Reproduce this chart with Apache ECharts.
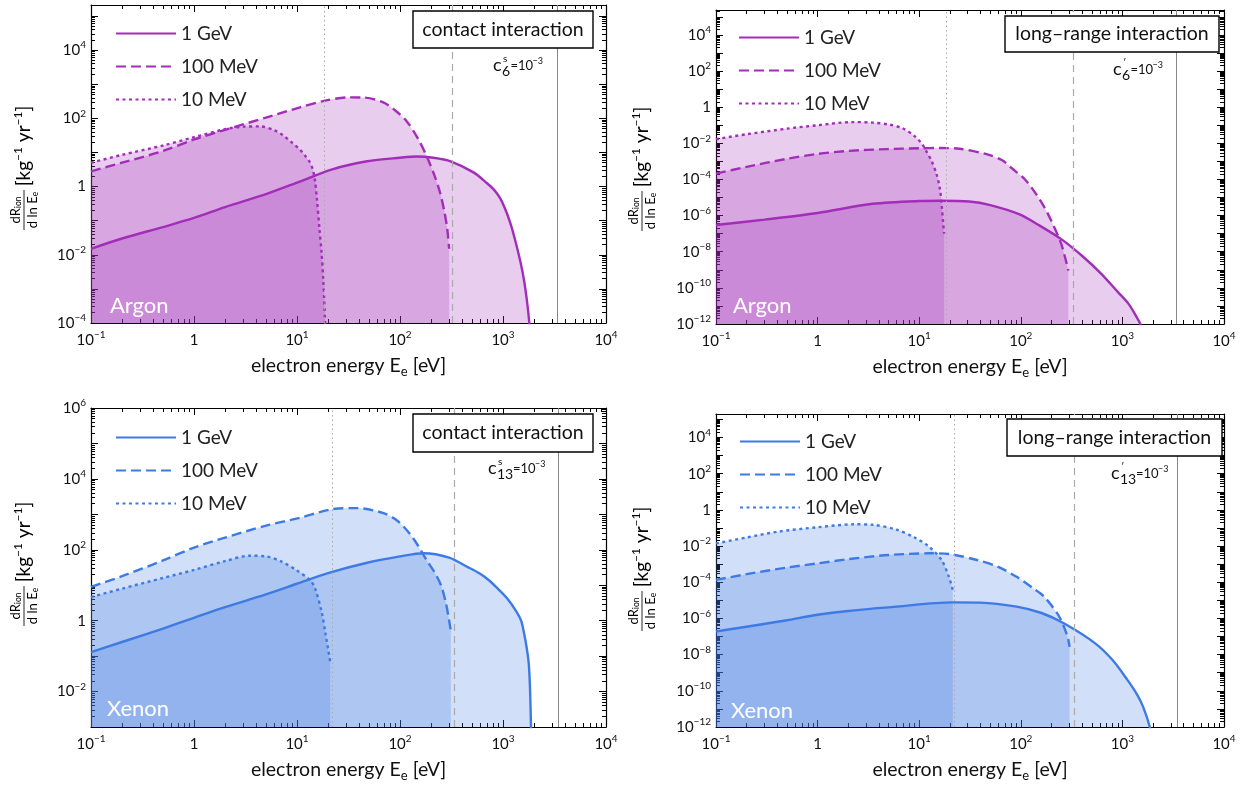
<!DOCTYPE html>
<html><head><meta charset="utf-8">
<script src="https://cdn.jsdelivr.net/npm/echarts@6/dist/echarts.min.js"></script>
<style>html,body{margin:0;padding:0;background:#fff}#c{width:1244px;height:789px}</style>
</head><body><div id="c"></div>
<script>
// ---------------- data ----------------
const xTickLabels = [0.1, 1, 10, 100, 1000, 10000];
const yTicksArgonContact = [1e-4, 1e-2, 1, 1e2, 1e4];
const yTicksLongRange = [1e-12, 1e-10, 1e-8, 1e-6, 1e-4, 1e-2, 1, 1e2, 1e4];
const yTicksXenonContact = [1e-2, 1, 1e2, 1e4, 1e6];
const massLabels = ['1 GeV', '100 MeV', '10 MeV'];
const panelTitles = ['contact interaction', 'long–range interaction', 'contact interaction', 'long–range interaction'];
const targetNames = ['Argon', 'Argon', 'Xenon', 'Xenon'];
// threshold energies [eV] for 10 MeV, 100 MeV, 1 GeV
const argonThresholds = [18.3, 325, 3400];
const xenonThresholds = [22, 335, 3450];

// Argon, contact interaction
const argonContact1GeV = [[0.1,0.015],[0.2,0.03],[0.5,0.065],[1,0.12],[2,0.25],[5,0.6],[10,1.3],[22,3.2],[48,5.5],[100,7],[146,7.6],[210,7],[310,5.5],[517,2.6],[700,1.25],[820,0.8],[940,0.45],[1050,0.22],[1170,0.09],[1300,0.03],[1480,0.006],[1600,0.0018],[1700,5e-4],[1800,1e-4],[1880,1e-5]];
const argonContact100MeV = [[0.1,2.8],[0.2,5],[0.5,11],[1,24],[2,46],[5,105],[10.7,210],[18.7,330],[32,410],[45,405],[68,300],[90,170],[117,80],[150,25],[182,7.6],[215,2.2],[245,0.66],[270,0.18],[288,0.055],[300,0.015]];
const argonContact10MeV = [[0.1,5],[0.2,8.5],[0.5,16],[1,28],[2,48],[3,57],[4.4,58],[6,45],[7.3,32],[9,19],[10.7,12],[12,8],[13.4,5],[14.3,3],[15,1.4],[15.6,0.45],[16.5,0.06],[17.3,0.012],[18,0.0018],[18.7,1.2e-4],[19,1e-5]];
// Argon, long-range interaction
const argonLong1GeV = [[0.1,3e-7],[0.3,6e-7],[1,1.4e-6],[3.5,4.5e-6],[10,6.4e-6],[16,6.6e-6],[31,6e-6],[50,3.8e-6],[96,1.2e-6],[150,3e-7],[250,5e-8],[400,6e-9],[620,6e-10],[900,6e-11],[1150,1.3e-11],[1350,3e-12],[1500,1e-12],[1700,1e-13]];
const argonLong100MeV = [[0.1,2.1e-4],[0.2,5e-4],[0.5,1.4e-3],[1,2.6e-3],[2,3.8e-3],[4.8,4.8e-3],[10,5.3e-3],[16,5.5e-3],[25,5e-3],[46,2.5e-3],[65,1.2e-3],[81,4.3e-4],[110,1e-4],[141,1.6e-5],[170,3e-6],[200,5e-7],[250,2.7e-8],[294,9e-10]];
const argonLong10MeV = [[0.1,0.017],[0.2,0.032],[0.5,0.065],[1,0.1],[2.2,0.15],[3.5,0.14],[5,0.11],[6.8,0.07],[9,0.025],[10.7,0.009],[12,0.003],[13.3,1e-3],[14.8,2e-4],[16,3e-5],[16.7,3e-6],[17.2,4e-7],[17.6,1e-7]];
// Xenon, contact interaction
const xenonContact1GeV = [[0.1,0.13],[0.2,0.25],[0.5,0.6],[1,1.2],[2,2.4],[5,5.5],[10,11],[20,22],[48,43],[100,65],[170,80],[300,60],[450,33],[600,21],[725,14],[870,8.5],[1100,4.2],[1350,1.8],[1500,1.0],[1600,0.45],[1700,0.17],[1780,0.06],[1830,0.012],[1870,1e-3],[1900,1e-4]];
const xenonContact100MeV = [[0.1,9],[0.2,18],[0.5,50],[1,115],[2,220],[5,480],[10.7,800],[22,1400],[38,1500],[68,1100],[95,650],[125,280],[150,130],[182,50],[215,24],[250,10],[280,3],[300,1],[312,0.5]];
const xenonContact10MeV = [[0.1,4.6],[0.2,8],[0.5,16],[1,27],[2,48],[3.5,68],[5,65],[7,47],[10,26],[13.4,14],[15,8],[17.4,1.7],[19,0.4],[21,0.07]];
// Xenon, long-range interaction
const xenonLong1GeV = [[0.1,1.9e-7],[0.2,3.5e-7],[0.5,8e-7],[1,1.6e-6],[2,2.6e-6],[6,4.5e-6],[21,7.7e-6],[40,7.5e-6],[91,4.5e-6],[160,2e-6],[265,5.4e-7],[540,4.2e-8],[800,5e-9],[1120,4e-10],[1400,6e-11],[1600,1.3e-11],[1860,1e-12],[2000,1e-13]];
const xenonLong100MeV = [[0.1,1.35e-4],[0.2,2.8e-4],[0.5,6.5e-4],[1,1.1e-3],[2,1.9e-3],[5,3.2e-3],[12.6,4e-3],[20,3.6e-3],[37,1.7e-3],[60,7e-4],[91,2e-4],[130,5e-5],[170,1.6e-5],[240,1.2e-6],[288,1e-7],[302,2.7e-8]];
const xenonLong10MeV = [[0.1,0.014],[0.2,0.03],[0.41,0.063],[1,0.11],[2.3,0.16],[3.5,0.15],[6,0.08],[9,0.03],[12.6,0.009],[16.6,1.7e-3],[19.6,2e-4],[21.4,3.8e-5]];

// ---------------- layout / style ----------------
const FONT = 'Lato';
const PURPLE = '161,45,184', BLUE = '62,122,227';
const FILL_ALPHA = 0.34;
const X_MIN = 0.1, X_MAX = 1e4;
const panels = [
  {grid:{left:91,top:5,width:515,height:318}, yMin:1e-4, yMax:2.1e5, yLabels:yTicksArgonContact, rgb:PURPLE,
   data:[argonContact1GeV,argonContact100MeV,argonContact10MeV], thr:argonThresholds,
   box:[413,11,180,37], coup:[493,65,'s','6'], tpos:[110,306], legendPos:[110,19], ytitle:[24,146]},
  {grid:{left:716,top:10,width:508,height:314}, yMin:1e-12, yMax:2.4e5, yLabels:yTicksLongRange, rgb:PURPLE,
   data:[argonLong1GeV,argonLong100MeV,argonLong10MeV], thr:argonThresholds,
   box:[1005,16,214,36], coup:[1113,69,'′','6'], tpos:[733,306], legendPos:[733,23], ytitle:[642,147]},
  {grid:{left:91,top:408,width:515,height:319}, yMin:1e-3, yMax:1e6, yLabels:yTicksXenonContact, rgb:BLUE,
   data:[xenonContact1GeV,xenonContact100MeV,xenonContact10MeV], thr:xenonThresholds,
   box:[413,414,180,38], coup:[488,468,'s','13'], tpos:[107,709], legendPos:[110,423], ytitle:[24,542]},
  {grid:{left:716,top:414,width:508,height:313}, yMin:1e-12, yMax:2e5, yLabels:yTicksLongRange, rgb:BLUE,
   data:[xenonLong1GeV,xenonLong100MeV,xenonLong10MeV], thr:xenonThresholds,
   box:[1007,419,215,37], coup:[1111,473,'′','13'], tpos:[731,711], legendPos:[734,427], ytitle:[642,547]}
];
const lineTypes = ['solid', [10,5], [3,3.5]];

function decades(min, max) {
  const a = [];
  for (let e = Math.ceil(Math.log10(min) - 1e-9); e <= Math.floor(Math.log10(max) + 1e-9); e++) a.push(parseFloat('1e' + e));
  return a;
}
function minors(min, max) {
  const a = [];
  for (let e = Math.floor(Math.log10(min)) - 1; e <= Math.ceil(Math.log10(max)); e++)
    for (let m = 2; m <= 9; m++) { const v = parseFloat(m + 'e' + e); if (v > min && v < max) a.push(v); }
  return a;
}
function powLabel(v) {
  const e = Math.round(Math.log10(v));
  if (e === 0) return '{b|1}';
  return '{b|10}{s|' + (e < 0 ? '−' + (-e) : e) + '}';
}
const labelRich = {
  b: {fontSize: 15, fontFamily: FONT, color: '#111', lineHeight: 20},
  s: {fontSize: 10, fontFamily: FONT, color: '#111', verticalAlign: 'top', lineHeight: 12}
};
const nameRich = {
  a: {fontSize: 19.5, fontFamily: FONT, color: '#111', lineHeight: 24},
  b: {fontSize: 13, fontFamily: FONT, color: '#111', verticalAlign: 'bottom', lineHeight: 15}
};

const grids = [], xAxes = [], yAxes = [], series = [], legends = [], graphics = [];
const tickLine = {color: '#000', width: 1};
panels.forEach((p, gi) => {
  grids.push(Object.assign({show: false, outerBoundsMode: 'none', containLabel: false}, p.grid));
  const base = {type: 'log', logBase: 10, gridIndex: gi, splitLine: {show: false}, minorTick: {show: false}, minorSplitLine: {show: false}, silent: true};
  const xMaj = decades(X_MIN, X_MAX), xMin = minors(X_MIN, X_MAX);
  const yMaj = decades(p.yMin, p.yMax), yMin = minors(p.yMin, p.yMax);
  const axLine = {show: true, onZero: false, lineStyle: {color: '#000', width: 1.2}};
  const noLine = {show: false};
  // x axes
  xAxes.push(Object.assign({}, base, {min: X_MIN, max: X_MAX, position: 'bottom', axisLine: axLine,
    axisTick: {show: true, inside: true, length: 7, customValues: xMaj, lineStyle: tickLine},
    axisLabel: {show: true, customValues: xTickLabels, formatter: powLabel, rich: labelRich, margin: 7, hideOverlap: false},
    name: '{a|electron energy E}{b|e}{a| [eV]}', nameLocation: 'middle', nameGap: 31, nameTextStyle: {rich: nameRich}}));
  xAxes.push(Object.assign({}, base, {min: X_MIN, max: X_MAX, position: 'bottom', axisLine: noLine,
    axisTick: {show: true, inside: true, length: 4, customValues: xMin, lineStyle: tickLine}, axisLabel: {show: false}}));
  xAxes.push(Object.assign({}, base, {min: X_MIN, max: X_MAX, position: 'top', axisLine: axLine,
    axisTick: {show: true, inside: true, length: 7, customValues: xMaj, lineStyle: tickLine}, axisLabel: {show: false}}));
  xAxes.push(Object.assign({}, base, {min: X_MIN, max: X_MAX, position: 'top', axisLine: noLine,
    axisTick: {show: true, inside: true, length: 4, customValues: xMin, lineStyle: tickLine}, axisLabel: {show: false}}));
  // y axes
  yAxes.push(Object.assign({}, base, {min: p.yMin, max: p.yMax, position: 'left', axisLine: axLine,
    axisTick: {show: true, inside: true, length: 7, customValues: yMaj, lineStyle: tickLine},
    axisLabel: {show: true, customValues: p.yLabels, formatter: powLabel, rich: labelRich, margin: 5, hideOverlap: false}}));
  yAxes.push(Object.assign({}, base, {min: p.yMin, max: p.yMax, position: 'left', axisLine: noLine,
    axisTick: {show: true, inside: true, length: 4, customValues: yMin, lineStyle: tickLine}, axisLabel: {show: false}}));
  yAxes.push(Object.assign({}, base, {min: p.yMin, max: p.yMax, position: 'right', axisLine: axLine,
    axisTick: {show: true, inside: true, length: 7, customValues: yMaj, lineStyle: tickLine}, axisLabel: {show: false}}));
  yAxes.push(Object.assign({}, base, {min: p.yMin, max: p.yMax, position: 'right', axisLine: noLine,
    axisTick: {show: true, inside: true, length: 4, customValues: yMin, lineStyle: tickLine}, axisLabel: {show: false}}));

  const names = massLabels.map(n => p.rgb === BLUE ? n + '\u200b' : n);
  p.data.forEach((d, si) => {
    // fill
    series.push({type: 'line', name: 'area' + gi + '_' + si, xAxisIndex: gi * 4, yAxisIndex: gi * 4, data: d,
      symbol: 'none', showSymbol: false, smooth: 0.3, silent: true, z: 1,
      lineStyle: {width: 0, opacity: 0}, areaStyle: {color: 'rgba(' + p.rgb + ',' + FILL_ALPHA + ')', origin: 'start'}});
  });
  p.data.forEach((d, si) => {
    const s = {type: 'line', name: names[si], xAxisIndex: gi * 4, yAxisIndex: gi * 4, data: d,
      symbol: 'none', showSymbol: false, smooth: 0.3, silent: true, z: 3,
      itemStyle: {color: 'rgb(' + p.rgb + ')'},
      lineStyle: {width: 2.4, color: 'rgb(' + p.rgb + ')', type: lineTypes[si]}};
    if (si === 0) {
      s.markLine = {silent: true, symbol: ['none', 'none'], label: {show: false}, animation: false,
        data: [
          {xAxis: p.thr[0], lineStyle: {type: [1.5, 3], color: '#aaa', width: 1}},
          {xAxis: p.thr[1], lineStyle: {type: [7, 5], color: '#aaa', width: 1.2}},
          {xAxis: p.thr[2], lineStyle: {type: 'solid', color: '#888', width: 1}}
        ]};
    }
    series.push(s);
  });
  legends.push({data: names, orient: 'vertical', left: p.legendPos[0], top: p.legendPos[1], itemWidth: 60, itemHeight: 14, itemGap: 14,
    selectedMode: false, itemStyle: {color: 'rgba(0,0,0,0)', borderColor: 'rgba(0,0,0,0)', borderWidth: 0, opacity: 0},
    textStyle: {fontSize: 19, fontFamily: FONT, color: '#222'}});

  // title box
  const [bx, by, bw, bh] = p.box;
  graphics.push({type: 'rect', z: 100, shape: {x: bx, y: by, width: bw, height: bh}, style: {fill: '#fff', stroke: '#000', lineWidth: 1.4}});
  graphics.push({type: 'text', z: 101, x: bx + bw / 2, y: by + bh / 2, style: {text: panelTitles[gi], font: '19.5px ' + FONT, fill: '#111', align: 'center', verticalAlign: 'middle'}});
  // coupling label
  const [cx, cy, sup, sub] = p.coup;
  const subW = sub.length * 7.5;
  graphics.push({type: 'text', z: 101, x: cx, y: cy, style: {text: 'c', font: '18px ' + FONT, fill: '#111', align: 'left', verticalAlign: 'middle'}});
  graphics.push({type: 'text', z: 101, x: cx + 10, y: cy - 6, style: {text: sup, font: '10px ' + FONT, fill: '#111', align: 'left', verticalAlign: 'middle'}});
  graphics.push({type: 'text', z: 101, x: cx + 9, y: cy + 6, style: {text: sub, font: '14px ' + FONT, fill: '#111', align: 'left', verticalAlign: 'middle'}});
  graphics.push({type: 'text', z: 101, x: cx + 10 + subW, y: cy + 1, style: {text: '=10', font: '13px ' + FONT, fill: '#111', align: 'left', verticalAlign: 'middle'}});
  graphics.push({type: 'text', z: 101, x: cx + 10 + subW + 22, y: cy - 4, style: {text: '−3', font: '9px ' + FONT, fill: '#111', align: 'left', verticalAlign: 'middle'}});
  // target name
  graphics.push({type: 'text', z: 101, x: p.tpos[0], y: p.tpos[1], style: {text: targetNames[gi], font: '22px ' + FONT, fill: '#fff', align: 'left', verticalAlign: 'middle'}});
  // y-axis title
  const frRich = {t: {fontSize: 13, fontFamily: FONT, color: '#111'}, u: {fontSize: 8.5, fontFamily: FONT, color: '#111', verticalAlign: 'bottom'}};
  graphics.push({type: 'group', x: p.ytitle[0], y: p.ytitle[1], rotation: Math.PI / 2, z: 101, children: [
    {type: 'text', x: 0, y: 0, style: {text: '{t|[kg}{s|−1}{t| yr}{s|−1}{t|]}', align: 'center', verticalAlign: 'middle',
      rich: {t: {fontSize: 19, fontFamily: FONT, color: '#111', lineHeight: 24}, s: {fontSize: 12, fontFamily: FONT, color: '#111', verticalAlign: 'top', lineHeight: 14}}}},
    {type: 'text', x: -64, y: -8, style: {text: '{t|dR}{u|ion}', align: 'center', verticalAlign: 'middle', rich: frRich}},
    {type: 'line', shape: {x1: -84, y1: 0, x2: -44, y2: 0}, style: {stroke: '#111', lineWidth: 0.9}},
    {type: 'text', x: -64, y: 9, style: {text: '{t|d ln E}{u|e}', align: 'center', verticalAlign: 'middle', rich: frRich}}
  ]});
});

const chart = echarts.init(document.getElementById('c'), null, {renderer: 'canvas', width: 1244, height: 789});
chart.setOption({
  animation: false,
  backgroundColor: '#fff',
  textStyle: {fontFamily: FONT},
  grid: grids,
  xAxis: xAxes,
  yAxis: yAxes,
  legend: legends,
  series: series,
  graphic: {elements: graphics}
});
</script>
</body></html>
